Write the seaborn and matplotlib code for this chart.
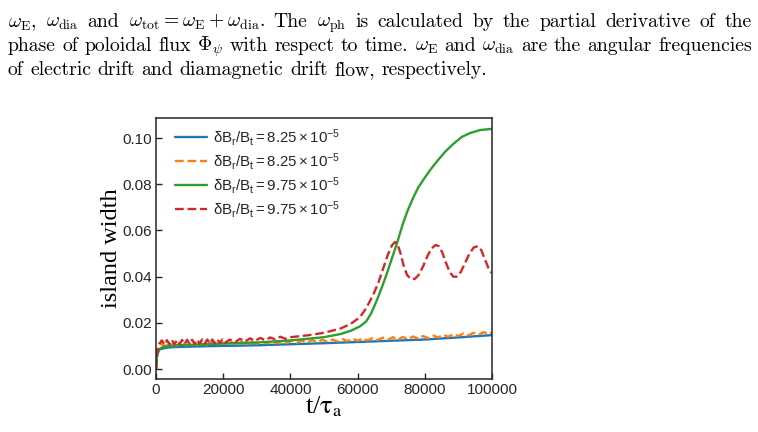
import matplotlib
matplotlib.use("Agg")
import matplotlib.pyplot as plt
import numpy as np
import pandas as pd
import seaborn as sns

# ---------------- data ----------------
t_blue = [0, 300, 1000, 3000, 5000, 15000, 30000, 50000, 65000, 80000, 90000, 100000]
w_blue = [0.0, 0.0060, 0.0085, 0.0092, 0.0095, 0.0099, 0.0103, 0.0112, 0.0120, 0.0128, 0.0137, 0.0147]

t_orange = [0, 500, 1500, 3000, 4500, 6000, 7500, 9000, 10500, 12000, 13500, 15000, 16500,
            18000, 19500, 21000, 22500, 24000, 25500, 27000, 28500, 30000, 31500, 33000,
            34500, 36000, 37500, 39000, 40500, 42000, 43500, 45000, 46500, 48000, 49500,
            51000, 52500, 54000, 55500, 57000, 58500, 60000, 61500, 63000, 64500, 66000,
            67500, 69000, 70500, 72000, 73500, 75000, 76500, 78000, 79500, 81000, 82500,
            84000, 85500, 87000, 88500, 90000, 91500, 93000, 94500, 96000, 97500, 99000, 100000]
w_orange = [0.0, 0.0085, 0.0108, 0.0100, 0.0111, 0.0101, 0.0112, 0.0102, 0.0113, 0.0103, 0.0114,
            0.0105, 0.0115, 0.0105, 0.0116, 0.0106, 0.0117, 0.0107, 0.0118, 0.0108, 0.0119,
            0.0110, 0.0120, 0.0111, 0.0121, 0.0112, 0.0122, 0.0113, 0.0123, 0.0114, 0.0124,
            0.0115, 0.0126, 0.0116, 0.0127, 0.0118, 0.0128, 0.0119, 0.0130, 0.0121, 0.0132,
            0.0122, 0.0133, 0.0124, 0.0135, 0.0125, 0.0136, 0.0127, 0.0138, 0.0128, 0.0139,
            0.0130, 0.0141, 0.0132, 0.0143, 0.0134, 0.0145, 0.0137, 0.0148, 0.0140, 0.0151,
            0.0143, 0.0154, 0.0146, 0.0157, 0.0149, 0.0160, 0.0152, 0.0158]

t_green = [0, 300, 800, 2000, 5000, 15000, 30000, 40000, 50000, 55000, 58000, 60700, 62500,
           64000, 65500, 67000, 68500, 70000, 71500, 73500, 75000, 76500, 78000, 79500, 81500,
           83500, 86000, 88500, 91000, 93500, 96500, 100000]
w_green = [0.0, 0.0060, 0.0085, 0.0095, 0.0102, 0.0108, 0.0115, 0.0124, 0.0138, 0.0152, 0.0166,
           0.0185, 0.0205, 0.0240, 0.0290, 0.0345, 0.0405, 0.0470, 0.0535, 0.0630, 0.0690,
           0.0740, 0.0785, 0.0818, 0.0860, 0.0897, 0.0940, 0.0975, 0.1005, 0.1022, 0.1035,
           0.1040]

t_red = [0, 400, 1000, 1750, 2500, 3250, 4000, 4750, 5500, 6250, 7000, 7750, 8500, 9250,
         10000, 10750, 11500, 12250, 13000, 13750, 14500, 15250, 16000, 16750, 17500, 18250,
         19000, 19750, 20500, 22000, 23500, 25000, 26500, 28000, 29500, 31000, 32500, 34000,
         35500, 37000, 38500, 40000, 45000, 50000, 55000, 58000, 60700, 62500, 64600, 66200,
         67600, 69000, 70200, 71100, 71900, 72800, 73700, 74700, 75800, 77000, 78200, 79500,
         80800, 82000, 83200, 84200, 85200, 86300, 87400, 88500, 89500, 90700, 92000, 93300,
         94600, 95800, 96800, 97900, 99000, 100000]
w_red = [0.0, 0.0080, 0.0110, 0.0124, 0.0106, 0.0125, 0.0107, 0.0126, 0.0107, 0.0126, 0.0108,
         0.0126, 0.0108, 0.0127, 0.0109, 0.0127, 0.0109, 0.0127, 0.0110, 0.0128, 0.0110,
         0.0128, 0.0111, 0.0128, 0.0111, 0.0129, 0.0112, 0.0129, 0.0113, 0.0128, 0.0116,
         0.0131, 0.0119, 0.0133, 0.0122, 0.0135, 0.0125, 0.0137, 0.0128, 0.0140, 0.0131,
         0.0138, 0.0146, 0.0157, 0.0176, 0.0196, 0.0225, 0.0262, 0.0320, 0.0375,
         0.0435, 0.0495, 0.0535, 0.0550, 0.0540, 0.0500, 0.0448, 0.0408, 0.0390, 0.0390,
         0.0408, 0.0445, 0.0490, 0.0522, 0.0537, 0.0532, 0.0505, 0.0460, 0.0420, 0.0400,
         0.0400, 0.0420, 0.0460, 0.0500, 0.0527, 0.0532, 0.0515, 0.0475, 0.0435, 0.0415]

series_labels = [r'$\mathrm{\delta B_r/B_t = 8.25\times10^{-5}}$',
                 r'$\mathrm{\delta B_r/B_t = 8.25\times10^{-5}}$',
                 r'$\mathrm{\delta B_r/B_t = 9.75\times10^{-5}}$',
                 r'$\mathrm{\delta B_r/B_t = 9.75\times10^{-5}}$']
x_ticks = [0, 20000, 40000, 60000, 80000, 100000]
y_ticks = [0.00, 0.02, 0.04, 0.06, 0.08, 0.10]

para_lines = [
    [r'$\omega_\mathrm{E}$,', r'$\omega_\mathrm{dia}$', 'and',
     r'$\omega_\mathrm{tot}=\omega_\mathrm{E}+\omega_\mathrm{dia}$.', 'The',
     r'$\omega_\mathrm{ph}$', 'is', 'calculated', 'by', 'the', 'partial', 'derivative',
     'of', 'the'],
    ['phase', 'of', 'poloidal', 'flux', r'$\Phi_\psi$', 'with', 'respect', 'to', 'time.',
     r'$\omega_\mathrm{E}$', 'and', r'$\omega_\mathrm{dia}$', 'are', 'the', 'angular',
     'frequencies'],
    ['of', 'electric', 'drift', 'and', 'diamagnetic', 'drift', 'flow,', 'respectively.'],
]

# ---------------- style ----------------
sns.set_style("ticks")
plt.rcParams.update({
    'font.family': ['Liberation Sans', 'DejaVu Sans'],
    'mathtext.fontset': 'custom',
    'mathtext.rm': 'Liberation Sans',
    'mathtext.it': 'Liberation Sans:italic',
    'mathtext.bf': 'Liberation Sans:bold',
    'axes.edgecolor': '#262626',
    'axes.linewidth': 1.1,
})

W, H = 758, 432
fig = plt.figure(figsize=(W / 100, H / 100), dpi=100)
ax = fig.add_axes([156 / W, 1 - 379 / H, 336 / W, 261 / H])

colors = ['#1f77b4', '#ff7f0e', '#2ca02c', '#d62728']
styles = ['-', '--', '-', '--']
datasets = [(t_blue, w_blue), (t_orange, w_orange), (t_green, w_green), (t_red, w_red)]
for (tt, ww), c, ls, lab in zip(datasets, colors, styles, series_labels):
    df = pd.DataFrame({'t': tt, 'w': ww})
    sns.lineplot(data=df, x='t', y='w', color=c, linestyle=ls, label=lab, ax=ax, lw=1.7)

ax.set_xlim(0, 100000)
ax.set_ylim(-0.0043, 0.1087)
ax.set_xticks(x_ticks)
ax.set_yticks(y_ticks)
ax.set_xticklabels([str(v) for v in x_ticks])
ax.set_yticklabels([f'{v:.2f}' for v in y_ticks])
ax.tick_params(direction='in', length=4, width=1, labelsize=11, colors='#262626', pad=3)
for s in ax.spines.values():
    s.set_visible(True)

ax.set_ylabel('island width', family='Liberation Serif', fontsize=17.5, color='black')
ax.yaxis.set_label_coords(-0.10, 0.5)
ax.set_xlabel(r't/$\mathrm{\tau_a}$', family='Liberation Serif', fontsize=19,
              color='black', math_fontfamily='stix')
ax.xaxis.set_label_coords(0.5, -0.06)

ax.legend(loc='upper left', bbox_to_anchor=(0.039, 0.99), borderaxespad=0, frameon=False,
          fontsize=10.8, handlelength=2.1, handletextpad=0.4, labelspacing=0.2)

# ---------------- paragraph text above the chart ----------------
renderer = fig.canvas.get_renderer()

def measure(words, size):
    ws = []
    for w in words:
        t = fig.text(0, 0, w, fontsize=size, family='cmr10', math_fontfamily='cm')
        ws.append(t.get_window_extent(renderer).width)
        t.remove()
    return ws

base = 12.0
w3 = measure(para_lines[2], base)
space0 = 0.333 * base * 100 / 72
natural = sum(w3) + space0 * (len(w3) - 1)
size = base * 482 / natural
space = 0.333 * size * 100 / 72

x0, x1 = 8, 752
baselines = [27, 51, 75]
for i, (words, yb) in enumerate(zip(para_lines, baselines)):
    ws = measure(words, size)
    if i < 2:
        gap = (x1 - x0 - sum(ws)) / (len(ws) - 1)
    else:
        gap = space
    x = x0
    for w, wd in zip(words, ws):
        fig.text(x / W, 1 - yb / H, w, fontsize=size, family='cmr10', math_fontfamily='cm',
                 va='baseline', ha='left', color='black')
        x += wd + gap

fig.savefig('out.png', dpi=100)
